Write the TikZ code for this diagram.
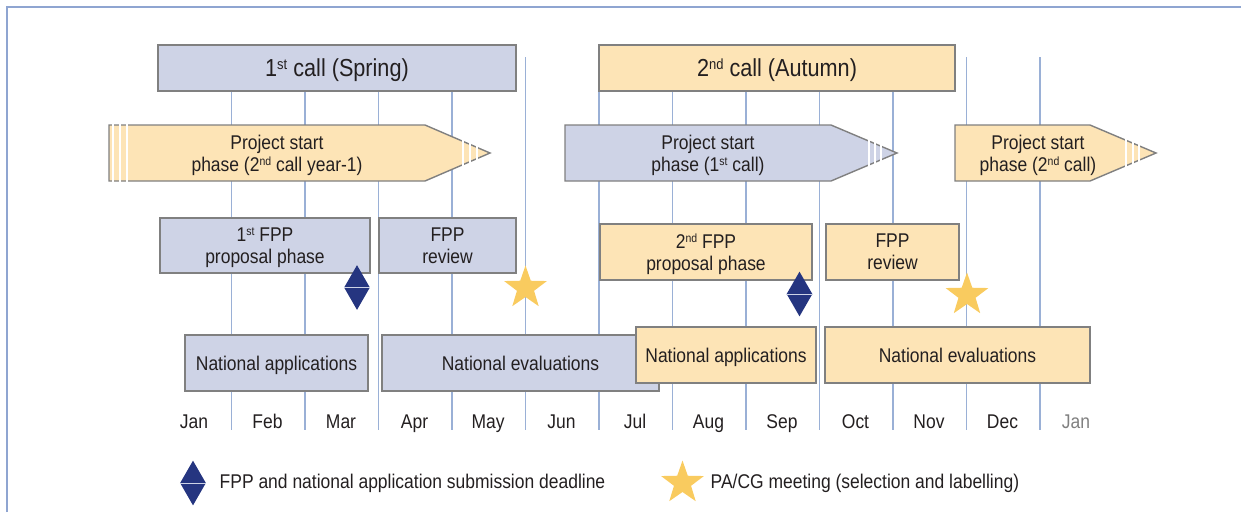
\documentclass[tikz,border=0pt]{standalone}
\usepackage{fontspec}
\setmainfont[FakeStretch=0.88]{Liberation Sans}
\usetikzlibrary{shapes.geometric,positioning}
\definecolor{callblue}{RGB}{206,211,230}
\definecolor{callpeach}{RGB}{253,228,182}
\definecolor{boxgrey}{RGB}{128,128,128}
\definecolor{gridblue}{RGB}{154,176,214}
\definecolor{framblue}{RGB}{143,165,209}
\definecolor{deadnavy}{RGB}{37,53,128}
\definecolor{stargold}{RGB}{249,203,95}
\definecolor{txtdark}{RGB}{35,31,32}
\newcommand{\ord}[1]{\raisebox{0.55ex}{\scalebox{0.6}{#1}}}
\tikzset{
  boxsize/.style 2 args={minimum width=#1*0.02cm, minimum height=#2*0.02cm},
  phase/.style={draw=boxgrey, line width=0.8pt, inner sep=0pt, align=center, text depth=0pt,
    text=txtdark, font=\fontsize{11.3}{12.5}\selectfont},
  springbox/.style={phase, fill=callblue},
  autumnbox/.style={phase, fill=callpeach},
  arrowtxt/.style={align=center, inner sep=0pt, text depth=0pt, text=txtdark, font=\fontsize{11.3}{12.5}\selectfont},
  stripe/.style={white, line width=1.5pt},
  deadline/.style={diamond, fill=deadnavy, inner sep=0pt, minimum width=26*0.02cm, minimum height=45*0.02cm},
  meeting/.style={star, star points=5, star point ratio=2.5, fill=stargold, inner sep=0pt, minimum size=45*0.02cm},
  month/.style={inner sep=0pt, anchor=base, text=txtdark, font=\fontsize{11.3}{12.5}\selectfont},
  legtxt/.style={inner sep=0pt, anchor=west, text=txtdark, font=\fontsize{11.3}{12.5}\selectfont},
}
\begin{document}
\begin{tikzpicture}[x=0.02cm, y=-0.02cm]
\useasboundingbox (0,0) rectangle (1241,512);
% frame
\draw[framblue, line width=1.2pt] (7,512) -- (7,7) -- (1241,7);

% month grid
\foreach \k in {0,...,11} {
  \draw[gridblue, line width=0.6pt] ({231.5+73.5*\k},57) -- ({231.5+73.5*\k},430);
}
\foreach \m [count=\i from 0] in {Jan,Feb,Mar,Apr,May,Jun,Jul,Aug,Sep,Oct,Nov,Dec} {
  \node[month] (m\i) at ({194+73.5*\i},428) {\m};
}
\node[month, text=gray] (m12) at (1076,428) {Jan};

% calls
\node[springbox, boxsize={358}{46}, font=\fontsize{14}{16}\selectfont] (call1) at (337,68)
  {1\ord{st} call (Spring)};
\node[autumnbox, boxsize={356}{46}, font=\fontsize{14}{16}\selectfont] (call2) at (777,68)
  {2\ord{nd} call (Autumn)};

% project start phases
\draw[boxgrey, line width=0.8pt, fill=callpeach] (109,125) -- (425,125) -- (490,153) -- (425,181) -- (109,181) -- cycle;
\foreach \x in {113,120,127,463,470,477} \draw[stripe] (\x,124) -- (\x,182);
\node[arrowtxt] (start0) at (277,153) {Project start\\phase (2\ord{nd} call year-1)};

\draw[boxgrey, line width=0.8pt, fill=callblue] (565,125) -- (831,125) -- (897,153) -- (831,181) -- (565,181) -- cycle;
\foreach \x in {869,875,881} \draw[stripe] (\x,124) -- (\x,182);
\node[arrowtxt] (start1) at (708,153) {Project start\\phase (1\ord{st} call)};

\draw[boxgrey, line width=0.8pt, fill=callpeach] (955,125) -- (1090,125) -- (1156,153) -- (1090,181) -- (955,181) -- cycle;
\foreach \x in {1126,1133,1139} \draw[stripe] (\x,124) -- (\x,182);
\node[arrowtxt] (start2) at (1038,153) {Project start\\phase (2\ord{nd} call)};

% FPP phases
\node[springbox, boxsize={210}{55}] (fpp1) at (265,245.5) {1\ord{st} FPP\\proposal phase};
\node[springbox, boxsize={137}{55}] (rev1) at (447.5,245.5) {FPP\\review};
\node[autumnbox, boxsize={212}{56}] (fpp2) at (706,252) {2\ord{nd} FPP\\proposal phase};
\node[autumnbox, boxsize={133}{56}] (rev2) at (892.5,252) {FPP\\review};

% deadlines and meetings
\node[deadline] (dl1) at (357,287.5) {};
\draw[callblue, line width=0.5pt] (dl1.west) -- (dl1.east);
\node[deadline] (dl2) at (799.5,294) {};
\draw[callblue, line width=0.5pt] (dl2.west) -- (dl2.east);
\node[meeting] (pa1) at (525.5,288) {};
\node[meeting] (pa2) at (967,295) {};

% national steps
\node[springbox, boxsize={183}{56}] (nat1) at (276.5,363) {National applications};
\node[springbox, boxsize={277}{56}] (eval1) at (520.5,363) {National evaluations};
\node[autumnbox, boxsize={180}{56}] (nat2) at (726,355) {National applications};
\node[autumnbox, boxsize={265}{56}] (eval2) at (957.5,355) {National evaluations};

% legend
\node[deadline] (legdl) at (193,483) {};
\draw[callblue, line width=0.5pt] (legdl.west) -- (legdl.east);
\node[legtxt, right=0.26cm of legdl] (legdltxt) {FPP and national application submission deadline};
\node[meeting] (legpa) at (682.5,483) {};
\node[legtxt, right=0.3cm of legpa] (legpatxt) {PA/CG meeting (selection and labelling)};
\end{tikzpicture}
\end{document}
